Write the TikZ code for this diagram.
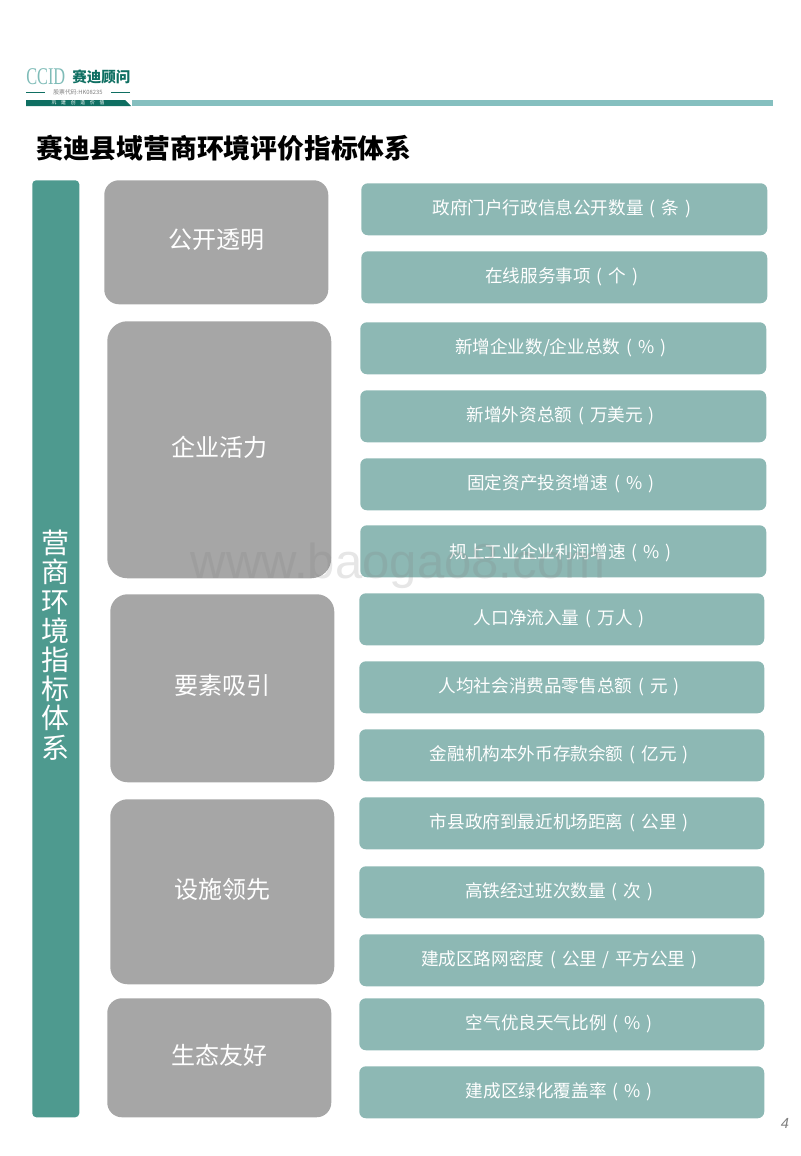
\documentclass[tikz,border=0pt]{standalone}
\usepackage{fontspec}
\setmainfont{Noto Sans CJK SC}
\newfontfamily\latinfont{Liberation Sans}
\newfontfamily\logofont{Liberation Serif}
\definecolor{bandteal}{HTML}{4E9A8F}
\definecolor{itemteal}{HTML}{8DB8B4}
\definecolor{groupgray}{HTML}{A6A6A6}
\definecolor{logoteal}{HTML}{0F6F62}
\definecolor{logolight}{HTML}{7FBCB8}
\definecolor{ruleteal}{HTML}{85BFBF}
\newcommand{\itemunit}[1]{\hspace{4.5pt}(\hspace{4.5pt}#1\hspace{4.5pt})\kern3.75pt}
\tikzset{
    band/.style={fill=bandteal, rounded corners=3, inner sep=0, anchor=north west},
    groupbox/.style={fill=groupgray, rounded corners=11, inner sep=0, anchor=north west, text=white,
        minimum width=168, text height=14pt, text depth=4.1pt,
        font=\fontsize{18}{20}\selectfont},
    itembox/.style={fill=itemteal, rounded corners=5, inner sep=0, anchor=north west, text=white,
        minimum width=304.5, minimum height=39, text height=11pt, text depth=2.5pt,
        font=\fontsize{13.2}{15}\selectfont}
}
\begin{document}
\begin{tikzpicture}[x=.75pt, y=-.75pt]
    \useasboundingbox (0, 0) rectangle (800, 1156);
    % header
    \node [anchor=west, text=logolight, font=\logofont\fontsize{18}{20}\selectfont, inner sep=0] (ccid) at (26, 77) {\scalebox{.68}[1]{CCID}};
    \node [anchor=west, text=logoteal, font=\bfseries\fontsize{10.9}{12}\selectfont, inner sep=0] (brand) at (72, 77) {赛迪顾问};
    \node [text=gray, font=\fontsize{4.4}{5}\selectfont, inner sep=0] (code) at (78, 92.5) {股票代码:HK08235};
    \coordinate (codeL) at (26, 92.5);
    \coordinate (codeR) at (130, 92.5);
    \draw [logoteal, line width=.5] (codeL) -- ++(19, 0);
    \draw [logoteal, line width=.5] (codeR) -- ++(-19, 0);
    \fill [logoteal] (26, 100) -- (125, 100) -- (131, 106) -- (26, 106) -- cycle;
    \node [text=white, font=\fontsize{3.6}{4}\selectfont, inner sep=0] (motto) at (78, 103) {巩\quad 建\quad 创\quad 造\quad 价\quad 值};
    \fill [ruleteal] (132, 100) rectangle (773, 106);
    \node [anchor=west, font=\bfseries\fontsize{20.1}{24}\selectfont, inner sep=0] (title) at (36, 148) {赛迪县域营商环境评价指标体系};
    % left band
    \node [band, minimum width=35.25, minimum height=702.75] (bandbox) at (32, 180) {};
    \node [text=white, align=center, inner sep=0, font=\fontsize{21}{21.9}\selectfont] (bandtext) at (55.5, 645)
        {营\\商\\环\\境\\指\\标\\体\\系};
    % groups
    \node [groupbox, minimum height=93] (open) at (104, 180) {公开透明};
    \node [groupbox, rounded corners=15, minimum height=192.75] (vital) at (107, 321) {企业活力};
    \node [groupbox, rounded corners=13, minimum height=141] (factor) at (110, 594) {要素吸引};
    \node [groupbox, rounded corners=13, minimum height=138.75] (infra) at (110, 799) {设施领先};
    \node [groupbox, minimum height=89.25] (eco) at (107, 998) {生态友好};
    % items
    \node [itembox] (itemA) at (361, 183) {政府门户行政信息公开数量\itemunit{条}};
    \node [itembox] (itemB) at (361, 251) {在线服务事项\itemunit{个}};
    \node [itembox] (itemC) at (360, 322) {新增企业数/企业总数\itemunit{\%}};
    \node [itembox] (itemD) at (360, 390) {新增外资总额\itemunit{万美元}};
    \node [itembox] (itemE) at (360, 458) {固定资产投资增速\itemunit{\%}};
    \node [itembox, text depth=.5pt] (itemF) at (360, 525) {规上工业企业利润增速\itemunit{\%}};
    \node [itembox, minimum width=303.75] (itemG) at (359, 593) {人口净流入量\itemunit{万人}};
    \node [itembox, minimum width=303.75] (itemH) at (359, 661) {人均社会消费品零售总额\itemunit{元}};
    \node [itembox, minimum width=303.75] (itemI) at (359, 729) {金融机构本外币存款余额\itemunit{亿元}};
    \node [itembox, minimum width=303.75] (itemJ) at (359, 797) {市县政府到最近机场距离\itemunit{公里}};
    \node [itembox, minimum width=303.75] (itemK) at (359, 866) {高铁经过班次数量\itemunit{次}};
    \node [itembox, minimum width=303.75] (itemL) at (359, 934) {建成区路网密度\itemunit{公里\hspace{4pt}/\hspace{4pt}平方公里}};
    \node [itembox, minimum width=303.75] (itemM) at (359, 998) {空气优良天气比例\itemunit{\%}};
    \node [itembox, minimum width=303.75] (itemN) at (359, 1066) {建成区绿化覆盖率\itemunit{\%}};
    % watermark and page number
    \node [text=gray, opacity=.2, font=\latinfont\fontsize{36.8}{40}\selectfont, inner sep=0] (mark) at (398, 566) {www.baogao8.com};
    \node [text=gray, font=\latinfont\itshape\fontsize{11}{12}\selectfont, inner sep=0] (page) at (785, 1123) {4};
\end{tikzpicture}
\end{document}
